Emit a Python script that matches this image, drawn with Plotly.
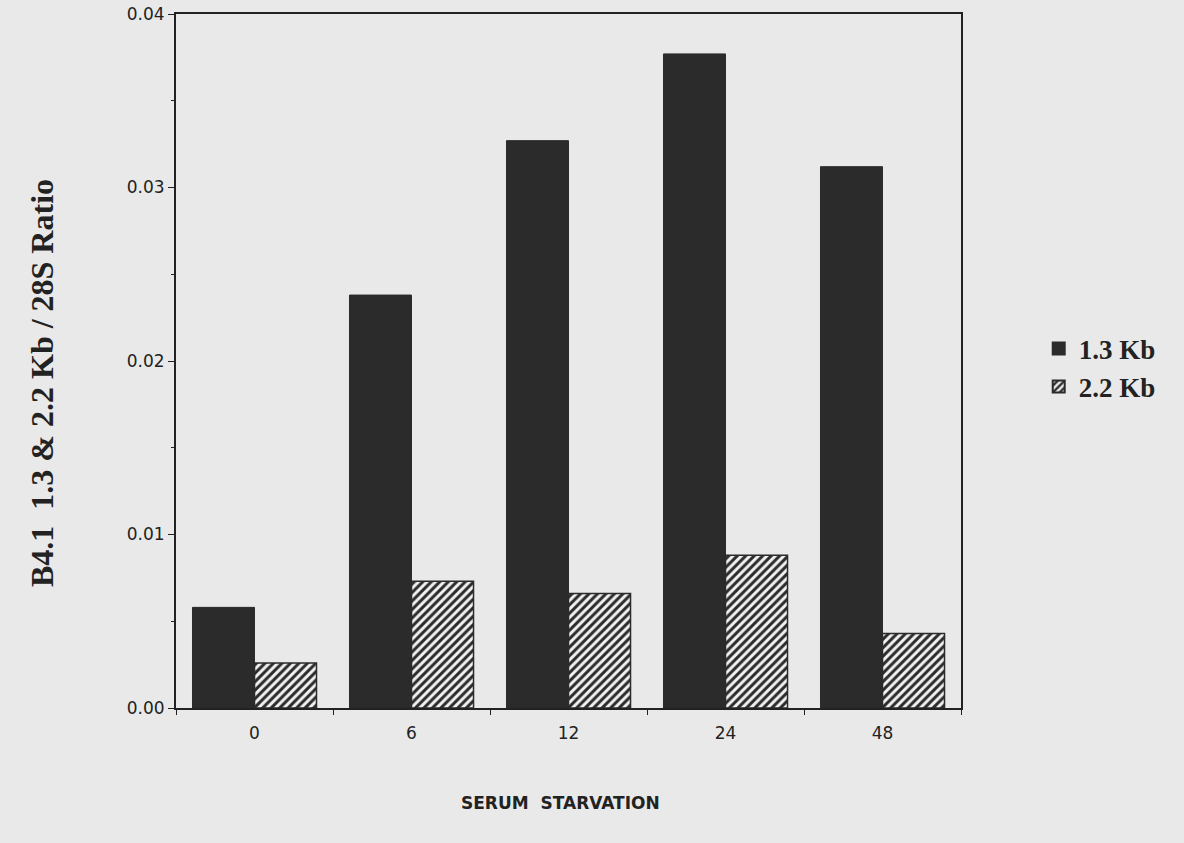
import plotly.graph_objects as go

categories = ["0", "6", "12", "24", "48"]
kb13 = [0.0058, 0.0238, 0.0327, 0.0377, 0.0312]
kb22 = [0.0026, 0.0073, 0.0066, 0.0088, 0.0043]
series_names = ["1.3 Kb", "2.2 Kb"]
y_ticks = [0.00, 0.01, 0.02, 0.03, 0.04]
y_tick_text = ["0.00", "0.01", "0.02", "0.03", "0.04"]
x_title = "SERUM  STARVATION"
y_title = "B4.1  1.3 &amp; 2.2 Kb / 28S Ratio"

dark = "#2b2b2b"
bg = "#e9e9e9"
hatch_bg = "#f2f2f2"

fig = go.Figure()
fig.add_trace(go.Bar(
    x=categories, y=kb13, name=series_names[0],
    marker=dict(color=dark, line=dict(color=dark, width=1)),
))
fig.add_trace(go.Bar(
    x=categories, y=kb22, name=series_names[1],
    marker=dict(color=hatch_bg, line=dict(color=dark, width=1.5),
                pattern=dict(shape="/", fgcolor=dark, bgcolor=hatch_bg,
                             size=6, solidity=0.5, fillmode="replace")),
))

fig.update_layout(
    width=1184, height=843,
    margin=dict(l=176, r=223, t=14, b=135),
    paper_bgcolor=bg, plot_bgcolor=bg,
    barmode="group", bargap=0.21, bargroupgap=0,
    showlegend=True,
    legend=dict(x=1.099, y=0.49, xanchor="left", yanchor="middle",
                bgcolor="rgba(0,0,0,0)",
                font=dict(family="Liberation Serif", size=27, color="#222", weight="bold"),
                itemsizing="constant", tracegroupgap=0),
    font=dict(family="DejaVu Sans", color="#222"),
    annotations=[
        dict(text=x_title, xref="paper", yref="paper",
             x=(560 - 176) / 785, y=-(803 - 708) / 694,
             xanchor="center", yanchor="middle", showarrow=False,
             font=dict(family="DejaVu Sans", size=17, color="#222", weight="bold")),
        dict(text=y_title, xref="paper", yref="paper", textangle=-90,
             x=-(176 - 42) / 785, y=(708 - 383) / 694,
             xanchor="center", yanchor="middle", showarrow=False,
             font=dict(family="Liberation Serif", size=32, color="#222", weight="bold")),
    ],
)
fig.update_xaxes(
    type="category", showline=True, linecolor="#222", linewidth=2, mirror=True,
    ticks="outside", tickson="boundaries", ticklen=5, tickcolor="#222",
    ticklabelstandoff=9,
    tickfont=dict(family="DejaVu Sans", size=17, color="#222"),
    showgrid=False, zeroline=False, automargin=False,
)
fig.update_yaxes(
    range=[0, 0.04], showline=True, linecolor="#222", linewidth=2, mirror=True,
    tickvals=y_ticks, ticktext=y_tick_text,
    ticks="outside", ticklen=6, tickcolor="#222",
    minor=dict(dtick=0.005, ticks="outside", ticklen=3, tickcolor="#222"),
    tickfont=dict(family="DejaVu Sans", size=17, color="#222"),
    showgrid=False, zeroline=False, automargin=False,
)

fig.write_html(
    "out.html",
    config={"displayModeBar": False},
    post_script="document.body.style.margin='0';document.body.style.background='%s';" % bg,
)
